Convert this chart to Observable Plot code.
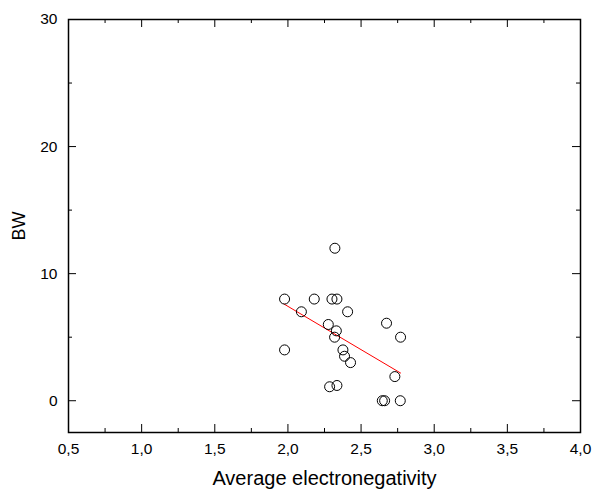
<!DOCTYPE html>
<html>
<head>
<meta charset="utf-8">
<script src="https://cdn.jsdelivr.net/npm/d3@7"></script>
<script src="https://cdn.jsdelivr.net/npm/@observablehq/plot@0.6"></script>
<style>
  html, body { margin: 0; padding: 0; background: #fff; }
  #chart svg { display: block; }
</style>
</head>
<body>
<div id="chart"></div>
<script>
// Average electronegativity (x) vs BW (y)
const elecNeg = [2.321, 1.977, 2.180, 2.301, 2.335, 2.092, 2.408, 2.674, 2.276, 2.331, 2.319,
                 2.770, 1.977, 2.376, 2.387, 2.428, 2.731, 2.285, 2.335, 2.645, 2.661, 2.768];
const bw      = [12.0, 8.0, 8.0, 8.0, 8.0, 7.0, 7.0, 6.1, 6.0, 5.5, 5.0,
                 5.0, 4.0, 4.0, 3.5, 3.0, 1.9, 1.1, 1.2, 0.0, 0.0, 0.0];
// fitted line end points
const fitX = [1.973, 2.770];
const fitY = [7.61, 2.18];
// ticks
const xMajor = [0.5, 1.0, 1.5, 2.0, 2.5, 3.0, 3.5, 4.0];
const xMinor = [0.75, 1.25, 1.75, 2.25, 2.75, 3.25, 3.75];
const yMajor = [0, 10, 20, 30];
const yMinor = [5, 15, 25];

const points = elecNeg.map((x, i) => ({x, y: bw[i]}));
const fit = fitX.map((x, i) => ({x, y: fitY[i]}));

const W = 593, H = 492;
const mL = 68, mR = 13, mT = 19, mB = 60;
const iw = W - mL - mR, ih = H - mT - mB;
const MAJ = 8, MIN = 4;

const chart = Plot.plot({
  width: W, height: H,
  marginLeft: mL, marginRight: mR, marginTop: mT, marginBottom: mB,
  style: { fontFamily: "'Liberation Sans', Arial, sans-serif", background: "white", overflow: "visible" },
  x: { domain: [0.5, 4.0] },
  y: { domain: [-2.5, 30] },
  marks: [
    Plot.axisX({ ticks: xMajor, tickSize: 0, tickPadding: 10, fontSize: 15.5,
      tickFormat: d => d.toFixed(1).replace(".", ","),
      label: "Average electronegativity", labelAnchor: "center", labelArrow: "none", labelOffset: 52 }),
    Plot.axisY({ ticks: yMajor, tickSize: 0, tickPadding: 11, fontSize: 15.5,
      tickFormat: d => String(d),
      label: "BW", labelAnchor: "center", labelArrow: "none", labelOffset: 56 }),
    // inward ticks: bottom & top
    Plot.ruleX(xMajor, { x: d => d, insetTop: ih - MAJ, stroke: "black" }),
    Plot.ruleX(xMinor, { x: d => d, insetTop: ih - MIN, stroke: "black" }),
    Plot.ruleX(xMajor, { x: d => d, insetBottom: ih - MAJ, stroke: "black" }),
    Plot.ruleX(xMinor, { x: d => d, insetBottom: ih - MIN, stroke: "black" }),
    // inward ticks: left & right
    Plot.ruleY(yMajor, { y: d => d, insetRight: iw - MAJ, stroke: "black" }),
    Plot.ruleY(yMinor, { y: d => d, insetRight: iw - MIN, stroke: "black" }),
    Plot.ruleY(yMajor, { y: d => d, insetLeft: iw - MAJ, stroke: "black" }),
    Plot.ruleY(yMinor, { y: d => d, insetLeft: iw - MIN, stroke: "black" }),
    Plot.frame({ stroke: "black", strokeWidth: 1.5 }),
    Plot.line(fit, { x: "x", y: "y", stroke: "red", strokeWidth: 1 }),
    Plot.dot(points, { x: "x", y: "y", r: 5, stroke: "black", strokeWidth: 1, fill: "none" })
  ]
});
chart.querySelectorAll('[aria-label="x-axis label"] text').forEach(t => t.setAttribute("font-size", "20"));
chart.querySelectorAll('[aria-label="y-axis label"] text').forEach(t => t.setAttribute("font-size", "18"));
document.getElementById("chart").appendChild(chart);
</script>
</body>
</html>
